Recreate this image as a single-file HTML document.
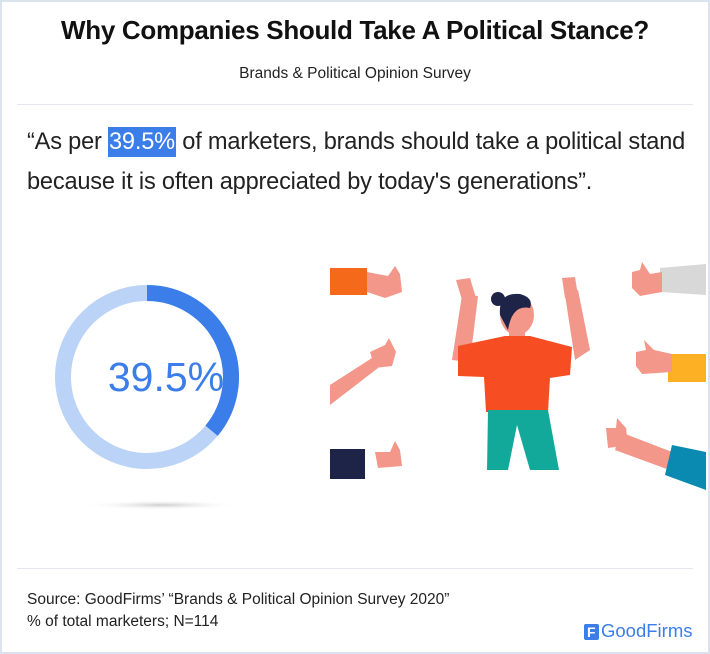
<!DOCTYPE html>
<html><head><meta charset="utf-8"><style>
html,body{margin:0;padding:0}
body{width:710px;height:654px;position:relative;background:#fff;font-family:"Liberation Sans",sans-serif;overflow:hidden}
.frame{position:absolute;left:0;top:0;width:706px;height:650px;border:2px solid #dbe3ee}
.t{position:absolute;white-space:nowrap}
</style></head><body>
<div class="frame"></div>
<div class="t" style="left:0;width:710px;top:15px;text-align:center;font-size:26px;font-weight:bold;color:#111;letter-spacing:-0.3px">Why Companies Should Take A Political Stance?</div>
<div class="t" style="left:0;width:710px;top:65px;text-align:center;font-size:15.5px;color:#222">Brands &amp; Political Opinion Survey</div>
<div style="position:absolute;left:17px;top:104px;width:676px;height:1px;background:#e4e8ee"></div>
<div class="t" style="left:27px;top:129px;font-size:23.6px;color:#222;letter-spacing:-0.2px">“As per <span style="background:#3b7de9;color:#fff;padding:2px 1px">39.5%</span> of marketers, brands should take a political stand</div>
<div class="t" style="left:27px;top:169px;font-size:23.6px;color:#222;letter-spacing:-0.2px">because it is often appreciated by today's generations”.</div>
<svg style="position:absolute;left:0;top:0" width="710" height="654">
<defs><radialGradient id="sh"><stop offset="0" stop-color="#ccc"/><stop offset="1" stop-color="#fff" stop-opacity="0"/></radialGradient></defs>
<ellipse cx="162" cy="505" rx="80" ry="5" fill="url(#sh)"/>
<circle cx="147" cy="377" r="84" fill="none" stroke="#bcd3f8" stroke-width="16"/>
<path d="M147 293 A84 84 0 0 1 211.6 430.7" fill="none" stroke="#3b7de9" stroke-width="16"/>
<text x="166" y="391" text-anchor="middle" font-family="Liberation Sans" font-size="41" fill="#3b7de9">39.5%</text>
<path d="M462 295 L452 360 L470 362 L478 296Z" fill="#f2978a"/>
<path d="M578 290 L590 350 L575 360 L565 295Z" fill="#f2978a"/>
<path d="M456 280 L462 300 L476 298 L470 278Z" fill="#f2978a"/>
<path d="M562 278 L565 298 L578 296 L575 277Z" fill="#f2978a"/>
<rect x="509" y="320" width="16" height="16" fill="#f2978a"/>
<ellipse cx="517" cy="315" rx="17" ry="20" fill="#f2978a"/>
<path d="M500 315 Q498 292 520 294 Q534 298 530 308 Q512 304 508 330Z" fill="#1e2447"/>
<circle cx="498" cy="299" r="7" fill="#1e2447"/>
<path d="M458 346 L505 336 L530 336 L572 347 L570 375 L550 378 L548 412 L486 412 L484 377 L458 376Z" fill="#f64e22"/>
<path d="M488 410 L548 410 L559 470 L530 470 L517 425 L508 470 L487 470Z" fill="#13a99a"/>
<rect x="330" y="268" width="37" height="27" fill="#f46a1a"/>
<path d="M367 272 L388 276 L395 266 L400 274 L402 292 L385 298 L367 292Z" fill="#f2978a"/>
<path d="M330 385 L372 358 L378 368 L330 405Z" fill="#f2978a"/>
<path d="M370 352 L385 345 L389 338 L396 352 L392 366 L375 368Z" fill="#f2978a"/>
<rect x="330" y="449" width="35" height="30" fill="#1e2447"/>
<path d="M375 452 L390 452 L395 441 L400 450 L402 466 L378 468Z" fill="#f2978a"/>
<path d="M660 268 L706 264 L706 295 L660 292Z" fill="#d8d8d8"/>
<path d="M632 272 L640 270 L642 262 L650 274 L662 272 L662 292 L640 296 L632 288Z" fill="#f2978a"/>
<rect x="668" y="354" width="38" height="28" fill="#fdb023"/>
<path d="M636 352 L646 350 L644 340 L654 350 L672 354 L672 372 L642 374 L636 366Z" fill="#f2978a"/>
<path d="M620 432 L680 455 L675 472 L615 450Z" fill="#f2978a"/>
<path d="M606 428 L616 428 L617 418 L626 428 L628 445 L608 448Z" fill="#f2978a"/>
<path d="M672 445 L706 452 L706 490 L665 475Z" fill="#0a8ab0"/>
</svg>
<div style="position:absolute;left:17px;top:568px;width:676px;height:1px;background:#e4e8ee"></div>
<div class="t" style="left:27px;top:591px;font-size:15.5px;color:#222">Source: GoodFirms’ “Brands &amp; Political Opinion Survey 2020”</div>
<div class="t" style="left:27px;top:613px;font-size:15.5px;color:#222">% of total marketers; N=114</div>
<div style="position:absolute;left:584px;top:624px;width:15px;height:16px;background:#3b7de9;border-radius:2px"></div>
<div class="t" style="left:587px;top:624px;font-size:14px;font-weight:bold;color:#fff">F</div>
<div class="t" style="left:601px;top:620px;font-size:18.5px;color:#3b7de9">GoodFirms</div>
</body></html>
